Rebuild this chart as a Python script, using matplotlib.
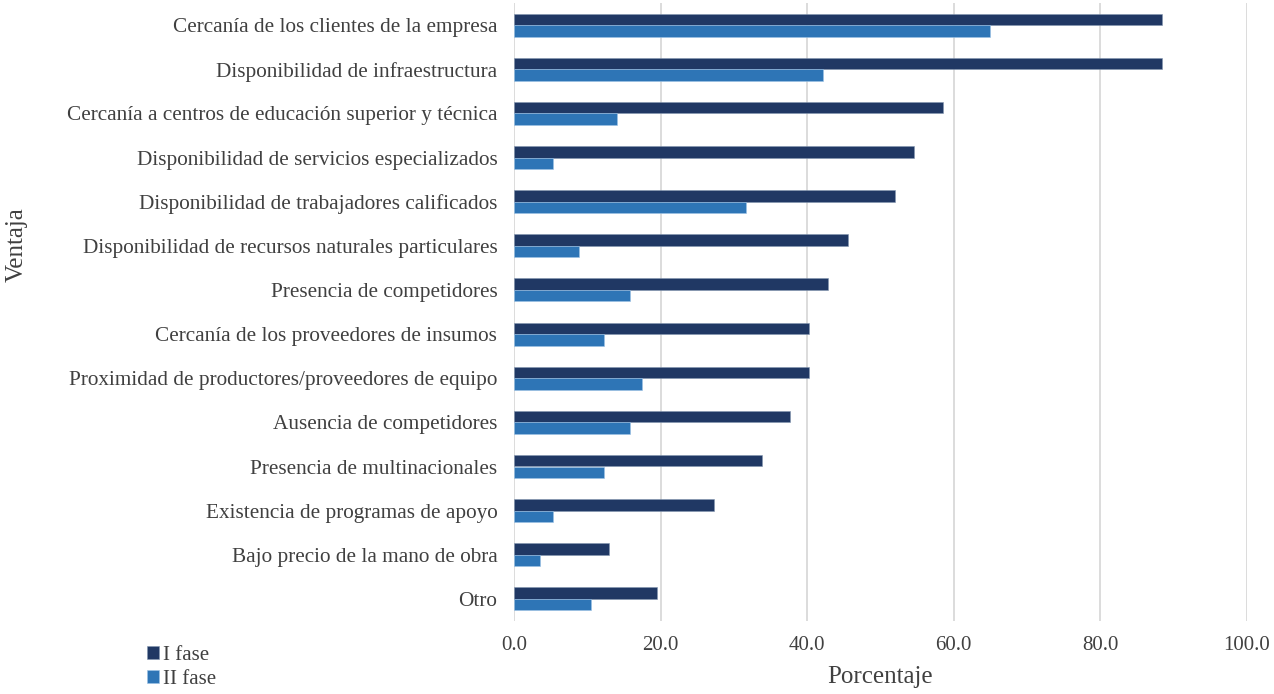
import matplotlib.pyplot as plt
import numpy as np

plt.rcParams['font.family'] = ['Liberation Serif', 'DejaVu Serif']

categorias = [
    'Cercanía de los clientes de la empresa',
    'Disponibilidad de infraestructura',
    'Cercanía a centros de educación superior y técnica',
    'Disponibilidad de servicios especializados',
    'Disponibilidad de trabajadores calificados',
    'Disponibilidad de recursos naturales particulares',
    'Presencia de competidores',
    'Cercanía de los proveedores de insumos',
    'Proximidad de productores/proveedores de equipo',
    'Ausencia de competidores',
    'Presencia de multinacionales',
    'Existencia de programas de apoyo',
    'Bajo precio de la mano de obra',
    'Otro',
]
fase_1 = [88.4, 88.4, 58.5, 54.6, 52.0, 45.5, 42.9, 40.3, 40.3, 37.7, 33.8, 27.3, 13.0, 19.5]
fase_2 = [64.9, 42.1, 14.0, 5.3, 31.6, 8.8, 15.8, 12.3, 17.5, 15.8, 12.3, 5.3, 3.5, 10.5]

c1 = '#203864'
c2 = '#2E75B6'

fig = plt.figure(figsize=(12.74, 6.94), dpi=100)
ax = fig.add_axes([514 / 1274, 1 - 621 / 694, (1247 - 514) / 1274, 618 / 694])

y = np.arange(len(categorias))
h = 0.26
ax.barh(y - h / 2, fase_1, height=h, color=c1, edgecolor='#8497b0', linewidth=0.4, label='I fase', zorder=3)
ax.barh(y + h / 2, fase_2, height=h, color=c2, edgecolor='#9dc3e6', linewidth=0.4, label='II fase', zorder=3)

ax.set_ylim(len(categorias) - 0.5, -0.5)
ax.set_xlim(0, 100)
ax.set_xticks(np.arange(0, 101, 20))
ax.set_xticklabels(['%.1f' % v for v in np.arange(0, 101, 20)], fontsize=15, color='#404040')
ax.set_yticks(y)
ax.set_yticklabels(categorias, fontsize=15.3, color='#404040')
ax.tick_params(length=0)
ax.tick_params(axis='x', pad=11)
ax.tick_params(axis='y', pad=12)
ax.grid(axis='x', color='#d9d9d9', linewidth=1.3, zorder=0)
for s in ax.spines.values():
    s.set_visible(False)

ax.set_xlabel('Porcentaje', fontsize=18, color='#404040', labelpad=8)
fig.text(0.013, 1 - 245 / 694, 'Ventaja', rotation=90, fontsize=18, color='#404040',
         ha='center', va='center')

fig.legend(loc='lower left', bbox_to_anchor=(0.101, -0.02), frameon=False,
           fontsize=15, handlelength=0.55, handleheight=0.55, handletextpad=0.2,
           labelspacing=0.25, labelcolor='#404040')

fig.savefig('out.png', dpi=100)
